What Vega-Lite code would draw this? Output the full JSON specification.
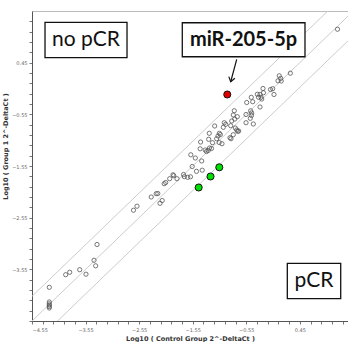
{
  "$schema": "https://vega.github.io/schema/vega-lite/v6.json",
  "width": 316,
  "height": 310,
  "autosize": {"type": "none"},
  "padding": {"left": 32, "top": 11, "right": 0, "bottom": 21},
  "background": "white",
  "config": {
    "view": {"stroke": "#bbbbbb", "strokeWidth": 1},
    "axis": {
      "grid": false,
      "domainColor": "#555555",
      "tickColor": "#777777",
      "tickSize": 3,
      "labelFont": "DejaVu Sans",
      "labelFontSize": 5,
      "labelColor": "#666666",
      "titleFont": "DejaVu Sans",
      "titleFontSize": 6.5,
      "titleFontWeight": "bold",
      "titleColor": "#333333"
    }
  },
  "datasets": {
    "pts": [
      {"x": -4.227, "y": -3.898}, {"x": -4.227, "y": -4.182}, {"x": -4.227, "y": -4.217}, {"x": -4.227, "y": -4.244},
      {"x": -4.227, "y": -4.271}, {"x": -4.227, "y": -4.298}, {"x": -3.921, "y": -3.654}, {"x": -3.846, "y": -3.607},
      {"x": -3.659, "y": -3.557}, {"x": -3.542, "y": -3.644}, {"x": -3.392, "y": -3.375}, {"x": -3.361, "y": -3.482},
      {"x": -3.336, "y": -3.069}, {"x": -2.655, "y": -2.406}, {"x": -2.590, "y": -2.328}, {"x": -2.324, "y": -2.150},
      {"x": -2.231, "y": -2.086}, {"x": -2.201, "y": -2.082}, {"x": -2.160, "y": -2.272}, {"x": -2.119, "y": -2.218},
      {"x": -2.082, "y": -1.893}, {"x": -2.054, "y": -1.870}, {"x": -1.979, "y": -1.796}, {"x": -1.917, "y": -1.720},
      {"x": -1.904, "y": -1.738}, {"x": -1.843, "y": -1.796}, {"x": -1.721, "y": -1.715}, {"x": -1.706, "y": -1.757},
      {"x": -1.643, "y": -1.769}, {"x": -1.591, "y": -1.759}, {"x": -1.559, "y": -1.560}, {"x": -1.585, "y": -1.333},
      {"x": -1.501, "y": -1.395}, {"x": -1.479, "y": -1.653}, {"x": -1.372, "y": -1.631}, {"x": -1.382, "y": -1.453},
      {"x": -1.411, "y": -1.217}, {"x": -1.402, "y": -1.086}, {"x": -1.316, "y": -1.241}, {"x": -1.292, "y": -1.270},
      {"x": -1.260, "y": -1.250}, {"x": -1.199, "y": -1.211}, {"x": -1.236, "y": -1.202}, {"x": -1.180, "y": -1.099},
      {"x": -1.055, "y": -1.095}, {"x": -1.003, "y": -1.119}, {"x": -1.251, "y": -1.033}, {"x": -1.240, "y": -0.917},
      {"x": -1.102, "y": -1.022}, {"x": -1.053, "y": -0.917}, {"x": -1.034, "y": -0.941}, {"x": -1.077, "y": -0.970},
      {"x": -1.139, "y": -0.776}, {"x": -0.978, "y": -0.801}, {"x": -0.960, "y": -0.712}, {"x": -0.933, "y": -0.743},
      {"x": -0.840, "y": -0.770}, {"x": -0.821, "y": -0.679}, {"x": -0.765, "y": -0.641}, {"x": -0.717, "y": -0.596},
      {"x": -0.792, "y": -0.563}, {"x": -0.773, "y": -0.480}, {"x": -0.853, "y": -1.002}, {"x": -0.835, "y": -1.022},
      {"x": -0.792, "y": -0.944}, {"x": -0.754, "y": -0.815}, {"x": -0.728, "y": -0.853}, {"x": -0.709, "y": -0.879},
      {"x": -0.691, "y": -0.873}, {"x": -0.554, "y": -0.553}, {"x": -0.554, "y": -0.712}, {"x": -0.418, "y": -0.737},
      {"x": -0.467, "y": -0.482}, {"x": -0.448, "y": -0.524}, {"x": -0.452, "y": -0.573}, {"x": -0.474, "y": -0.627},
      {"x": -0.541, "y": -0.321}, {"x": -0.456, "y": -0.221}, {"x": -0.429, "y": -0.306}, {"x": -0.343, "y": -0.161},
      {"x": -0.321, "y": -0.219}, {"x": -0.293, "y": -0.163}, {"x": -0.274, "y": -0.219}, {"x": -0.261, "y": -0.253},
      {"x": -0.293, "y": -0.408}, {"x": -0.237, "y": -0.050}, {"x": -0.228, "y": -0.132}, {"x": -0.097, "y": -0.070},
      {"x": -0.056, "y": -0.054}, {"x": -0.032, "y": -0.166}, {"x": 0.067, "y": 0.196}, {"x": 0.093, "y": 0.147},
      {"x": 0.043, "y": 0.099}, {"x": 0.103, "y": 0.095}, {"x": 0.273, "y": 0.246}, {"x": 1.154, "y": 1.097}
    ],
    "hl": [
      {"x": -0.904, "y": -0.166, "g": "up"},
      {"x": -1.438, "y": -1.966, "g": "down"},
      {"x": -1.217, "y": -1.753, "g": "down"},
      {"x": -1.053, "y": -1.575, "g": "down"}
    ],
    "lines": [
      {"line": "mid", "x": -5.0, "y": -5.0}, {"line": "mid", "x": 2.0, "y": 2.0},
      {"line": "up", "x": -5.0, "y": -4.523}, {"line": "up", "x": 2.0, "y": 2.477},
      {"line": "down", "x": -5.0, "y": -5.477}, {"line": "down", "x": 2.0, "y": 1.523}
    ],
    "boxes": [
      {"x": -4.307, "x2": -2.776, "y": 1.231, "y2": 0.546},
      {"x": -1.744, "x2": 0.547, "y": 1.223, "y2": 0.565},
      {"x": 0.217, "x2": 1.214, "y": -3.433, "y2": -4.118}
    ],
    "labels": [
      {"label": "no pCR", "bold": false, "x": -3.542, "y": 0.888},
      {"label": "miR-205-5p", "bold": true, "x": -0.601, "y": 0.888},
      {"label": "pCR", "bold": false, "x": 0.715, "y": -3.776}
    ],
    "arrow": [
      {"x": -0.728, "y": 0.515, "x2": -0.840, "y2": 0.081}
    ],
    "head": [
      {"x": -0.840, "y": 0.081}
    ]
  },
  "encoding": {
    "x": {
      "field": "x", "type": "quantitative",
      "scale": {"domain": [-4.55, 1.35], "nice": false, "zero": false},
      "axis": {
        "title": "Log10 ( Control Group 2^-DeltaCt )",
        "values": [-4.55,-4.35,-4.15,-3.95,-3.75,-3.55,-3.35,-3.15,-2.95,-2.75,-2.55,-2.35,-2.15,-1.95,-1.75,-1.55,-1.35,-1.15,-0.95,-0.75,-0.55,-0.35,-0.15,0.05,0.25,0.45,0.65,0.85,1.05,1.25],
        "labelExpr": "(abs((datum.value+4.55)%1) < 0.01 || abs((datum.value+4.55)%1) > 0.99) ? format(datum.value, '.2f') : ''",
        "labelPadding": 3,
        "titlePadding": 3
      }
    },
    "y": {
      "field": "y", "type": "quantitative",
      "scale": {"domain": [-4.55, 1.45], "nice": false, "zero": false},
      "axis": {
        "title": "Log10 ( Group 1 2^-DeltaCt )",
        "values": [-4.55,-4.35,-4.15,-3.95,-3.75,-3.55,-3.35,-3.15,-2.95,-2.75,-2.55,-2.35,-2.15,-1.95,-1.75,-1.55,-1.35,-1.15,-0.95,-0.75,-0.55,-0.35,-0.15,0.05,0.25,0.45,0.65,0.85,1.05,1.25],
        "labelExpr": "datum.value > -4.5 && (abs((datum.value+4.55)%1) < 0.01 || abs((datum.value+4.55)%1) > 0.99) ? format(datum.value, '.2f') : ''",
        "labelPadding": 2,
        "titlePadding": 3,
        "titleY": 135
      }
    }
  },
  "layer": [
    {
      "data": {"name": "lines"},
      "mark": {"type": "line", "clip": true, "color": "#cccccc", "strokeWidth": 1},
      "encoding": {"detail": {"field": "line"}}
    },
    {
      "data": {"name": "pts"},
      "mark": {"type": "point", "shape": "circle", "filled": false, "stroke": "#555555", "strokeWidth": 0.8, "size": 18, "opacity": 1},
      "encoding": {}
    },
    {
      "data": {"name": "hl"},
      "mark": {"type": "point", "shape": "circle", "filled": true, "stroke": "#111111", "strokeWidth": 1, "size": 50, "opacity": 1},
      "encoding": {
        "fill": {"field": "g", "type": "nominal", "scale": {"domain": ["up", "down"], "range": ["#e00000", "#00e000"]}, "legend": null}
      }
    },
    {
      "data": {"name": "boxes"},
      "mark": {"type": "rect", "fill": "white", "stroke": "#111111", "strokeWidth": 1.3},
      "encoding": {
        "x2": {"field": "x2"},
        "y2": {"field": "y2"}
      }
    },
    {
      "data": {"name": "labels"},
      "transform": [{"filter": "!datum.bold"}],
      "mark": {"type": "text", "font": "Lato", "fontSize": 21, "color": "#111111", "align": "center", "baseline": "middle"},
      "encoding": {"text": {"field": "label"}}
    },
    {
      "data": {"name": "labels"},
      "transform": [{"filter": "datum.bold"}],
      "mark": {"type": "text", "font": "Lato", "fontSize": 20, "fontWeight": "bold", "color": "#111111", "align": "center", "baseline": "middle"},
      "encoding": {"text": {"field": "label"}}
    },
    {
      "data": {"name": "arrow"},
      "mark": {"type": "rule", "color": "#111111", "strokeWidth": 1.2},
      "encoding": {
        "x2": {"field": "x2"},
        "y2": {"field": "y2"}
      }
    },
    {
      "data": {"name": "head"},
      "mark": {"type": "point", "shape": "M -1 -1.4 L 0 0 L 1 -1.4", "filled": false, "stroke": "#111111", "strokeWidth": 1.2, "size": 40, "angle": 15, "opacity": 1},
      "encoding": {}
    }
  ]
}
